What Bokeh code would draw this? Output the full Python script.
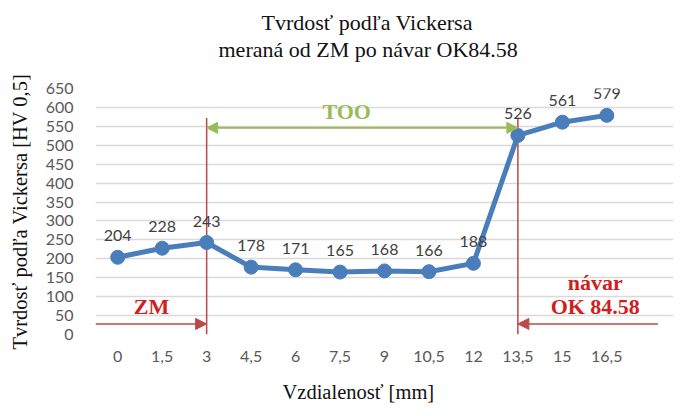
from bokeh.plotting import figure
from bokeh.models import Arrow, NormalHead, Label, FixedTicker, Title
from bokeh.core.properties import value
from bokeh.embed import file_html
from bokeh.resources import INLINE

# distance [mm] as category labels, hardness HV 0,5
x_labels = ["0", "1,5", "3", "4,5", "6", "7,5", "9", "10,5", "12", "13,5", "15", "16,5"]
hardness = [204, 228, 243, 178, 171, 165, 168, 166, 188, 526, 561, 579]
y_ticks = list(range(0, 651, 50))

zm_end = "3"          # end of base metal (ZM)
navar_start = "13,5"  # start of weld overlay (návar)

xs = list(range(len(x_labels)))
i_zm = x_labels.index(zm_end)
i_nav = x_labels.index(navar_start)

BLUE = "#4A7EBB"
RED_LINE = "#B94A48"
RED_TXT = "#D01F1F"
GREEN = "#9BBB59"
SERIF = "Liberation Serif"
SANS = "Lato"

p = figure(
    width=687, height=416,
    x_range=(-0.5, len(x_labels) + 0.5), y_range=(0, 650),
    output_backend="svg", toolbar_location=None, tools="",
    min_border_left=95, min_border_right=14, min_border_top=88, min_border_bottom=78,
)
p.outline_line_color = None
p.title = None

# title: spacer next to the plot, then the two lines (added ones stack outwards)
p.add_layout(Title(text=" ", text_font_size="22px", standoff=0), "above")
for line, off in [("meraná od ZM po návar OK84.58", 123), ("Tvrdosť podľa Vickersa", 166)]:
    p.add_layout(Title(text=line, align="left", offset=off, text_font=SERIF,
                       text_font_size="22px", text_font_style="normal",
                       text_color="#111111", standoff=0), "above")

p.xgrid.grid_line_color = None
p.ygrid.grid_line_color = "#D9D9D9"
p.ygrid.grid_line_width = 1.3
p.yaxis.ticker = FixedTicker(ticks=y_ticks)
p.xaxis.ticker = FixedTicker(ticks=xs)
p.xaxis.major_label_overrides = {i: lab for i, lab in enumerate(x_labels)}

for ax in (p.xaxis, p.yaxis):
    ax.axis_line_color = None
    ax.major_tick_line_color = None
    ax.minor_tick_line_color = None
    ax.major_label_text_font = SANS
    ax.major_label_text_font_size = "16px"
    ax.major_label_text_color = "#595959"

p.yaxis.axis_label = "Tvrdosť podľa Vickersa [HV 0,5]"
p.yaxis.axis_label_text_font = SERIF
p.yaxis.axis_label_text_font_size = "20.5px"
p.yaxis.axis_label_text_font_style = "normal"
p.yaxis.axis_label_text_color = "#111111"
p.yaxis.major_label_standoff = 16
p.yaxis.axis_label_standoff = 12
p.xaxis.major_label_standoff = 10

p.add_layout(Title(text="Vzdialenosť [mm]", align="left", offset=187, text_font=SERIF,
                   text_font_size="20.5px", text_font_style="normal",
                   text_line_height=1.0, text_color="#111111", standoff=28), "below")

# zone boundaries
p.segment(x0=[i_zm, i_nav], y0=[0, 0], x1=[i_zm, i_nav], y1=[572, 572],
          line_color=RED_LINE, line_width=1.5)

# data series
p.line(xs, hardness, line_color=BLUE, line_width=5)
p.scatter(xs, hardness, size=14, fill_color=BLUE, line_color=BLUE)
p.text(xs, hardness, text=[str(v) for v in hardness], text_font=value(SANS),
       text_font_size="16px", text_color="#404040", text_align="center",
       text_baseline="bottom", y_offset=-16)

# arrows
p.add_layout(Arrow(end=NormalHead(size=11, fill_color=GREEN, line_color=GREEN),
                   start=NormalHead(size=11, fill_color=GREEN, line_color=GREEN),
                   x_start=i_zm, y_start=546, x_end=i_nav, y_end=546,
                   line_color=GREEN, line_width=2))
p.add_layout(Arrow(end=NormalHead(size=11, fill_color=RED_LINE, line_color=RED_LINE),
                   x_start=-0.5, y_start=28, x_end=i_zm, y_end=28,
                   line_color=RED_LINE, line_width=1.5))
p.add_layout(Arrow(end=NormalHead(size=11, fill_color=RED_LINE, line_color=RED_LINE),
                   x_start=12.15, y_start=28, x_end=i_nav, y_end=28,
                   line_color=RED_LINE, line_width=1.5))

# zone names
for txt, x, y, col in [("TOO", 5.15, 588, GREEN), ("ZM", 0.76, 73, RED_TXT),
                       ("návar", 10.74, 138, RED_TXT), ("OK 84.58", 10.74, 73, RED_TXT)]:
    p.add_layout(Label(x=x, y=y, text=txt, text_font=SERIF, text_font_size="22px",
                       text_font_style="bold", text_color=col,
                       text_align="center", text_baseline="middle"))

open("out.html", "w").write(file_html(p, INLINE))
